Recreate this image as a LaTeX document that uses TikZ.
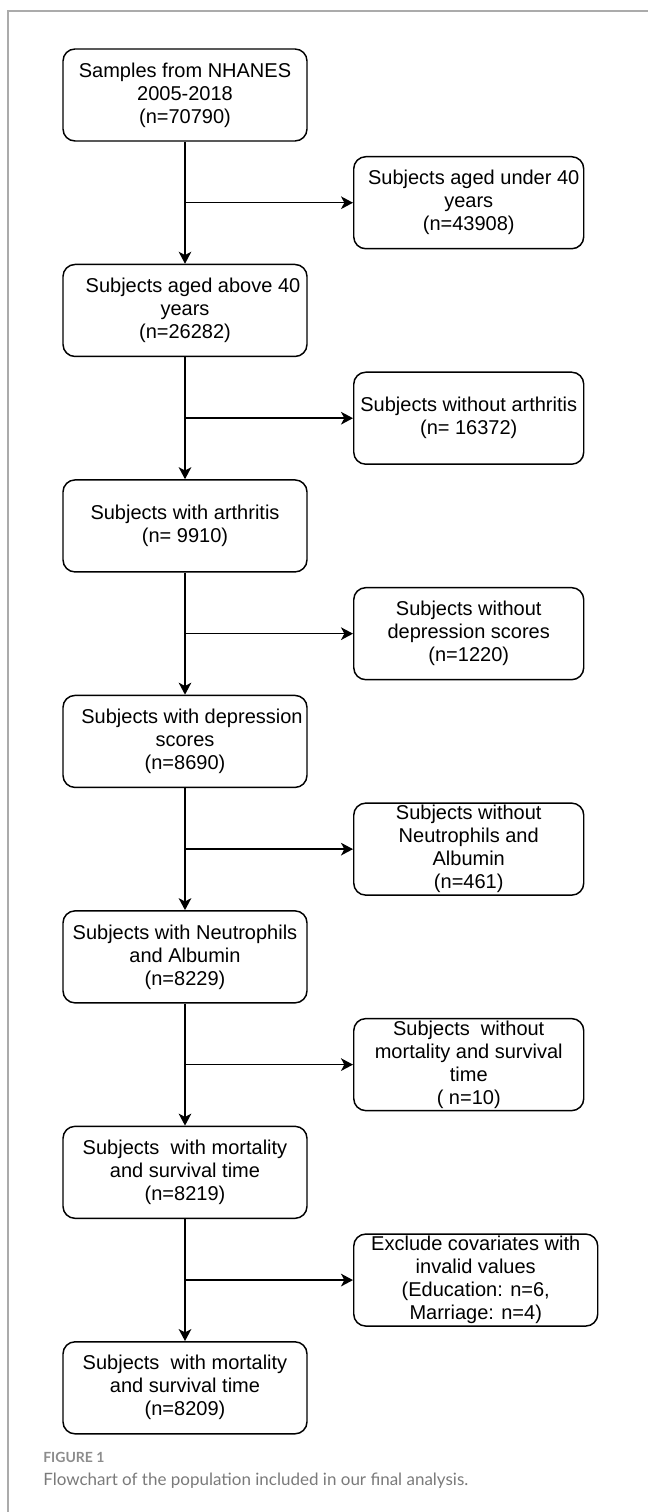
\documentclass[tikz,border=0pt]{standalone}
\usepackage{fontspec}
\setmainfont{Liberation Sans}
\newfontfamily\capfont{Lato}
\usetikzlibrary{positioning, arrows.meta, calc}
\definecolor{frameGray}{HTML}{ABABAB}
\definecolor{capGray}{HTML}{7A7A7A}
\definecolor{figGray}{HTML}{8C8C8C}

\begin{document}
\begin{tikzpicture}[x=0.75pt, y=-0.75pt, node distance=91.5pt]
    \tikzset{box/.style={draw=black,line width=1.1pt,rounded corners=9pt,minimum width=183pt,minimum height=69pt,inner xsep=2pt,inner ysep=0pt,align=center,font=\fontsize{15pt}{17.25pt}\selectfont}, side/.style={box,minimum width=172.5pt}, arr/.style={-{Stealth[length=9pt,width=9.5pt,inset=2.5pt]},line width=1.1pt}}
    \useasboundingbox (0,0) rectangle (648,1512);
    \draw[frameGray,line width=0.8pt] (8,1512) -- (8,11) -- (648,11);
    % main column
    \node[box] (a) at (185,95) {Samples from NHANES\\2005-2018\\(n=70790)};
    \node[box,below=of a] (b) {\hspace*{0.8em}Subjects aged above 40\\years\\(n=26282)};
    \node[box,below=of b] (c) {Subjects with arthritis\\(n= 9910)};
    \node[box,below=of c] (d) {\hspace*{0.7em}Subjects with depression\\scores\\(n=8690)};
    \node[box,below=of d] (e) {Subjects with Neutrophils\\and Albumin\\(n=8229)};
    \node[box,below=of e] (f) {Subjects\ \ with mortality\\and survival time\\(n=8219)};
    \node[box,below=of f] (g) {Subjects\ \ with mortality\\and survival time\\(n=8209)};
    % branch points
    \coordinate (ab) at ($(a.south)!.5!(b.north)$);
    \coordinate (bc) at ($(b.south)!.5!(c.north)$);
    \coordinate (cd) at ($(c.south)!.5!(d.north)$);
    \coordinate (de) at ($(d.south)!.5!(e.north)$);
    \coordinate (ef) at ($(e.south)!.5!(f.north)$);
    \coordinate (fg) at ($(f.south)!.5!(g.north)$);
    % excluded
    \node[side,right=126pt of ab] (x1) {\hspace*{0.5em}Subjects aged under 40\\years\\(n=43908)};
    \node[side,right=126pt of bc] (x2) {Subjects without arthritis\\(n= 16372)};
    \node[side,right=126pt of cd] (x3) {Subjects without\\depression scores\\(n=1220)};
    \node[side,right=126pt of de] (x4) {Subjects without\\Neutrophils and\\Albumin\\(n=461)};
    \node[side,right=126pt of ef] (x5) {Subjects\ \ without\\mortality and survival\\time\\( n=10)};
    \node[side,minimum width=183pt,right=126pt of fg] (x6) {Exclude covariates with\\invalid values\\(Education: n=6,\hspace*{0.8em}\\Marriage: n=4)};
    \draw[arr] (a)--(b);
    \draw[arr] (b)--(c);
    \draw[arr] (c)--(d);
    \draw[arr] (d)--(e);
    \draw[arr] (e)--(f);
    \draw[arr] (f)--(g);
    \draw[arr] (ab)--(x1);
    \draw[arr] (bc)--(x2);
    \draw[arr] (cd)--(x3);
    \draw[arr] (de)--(x4);
    \draw[arr] (ef)--(x5);
    \draw[arr] (fg)--(x6);
    % caption
    \node[font=\capfont\bfseries\fontsize{10.5pt}{12pt}\selectfont,text=figGray,anchor=base west,inner sep=0pt] (fig) at (43,1462) {FIGURE 1};
    \node[font=\capfont\fontsize{12.75pt}{15pt}\selectfont,text=capGray,anchor=base west,inner sep=0pt] (cap) at (43,1485) {Flowchart of the population included in our final analysis.};
\end{tikzpicture}
\end{document}
